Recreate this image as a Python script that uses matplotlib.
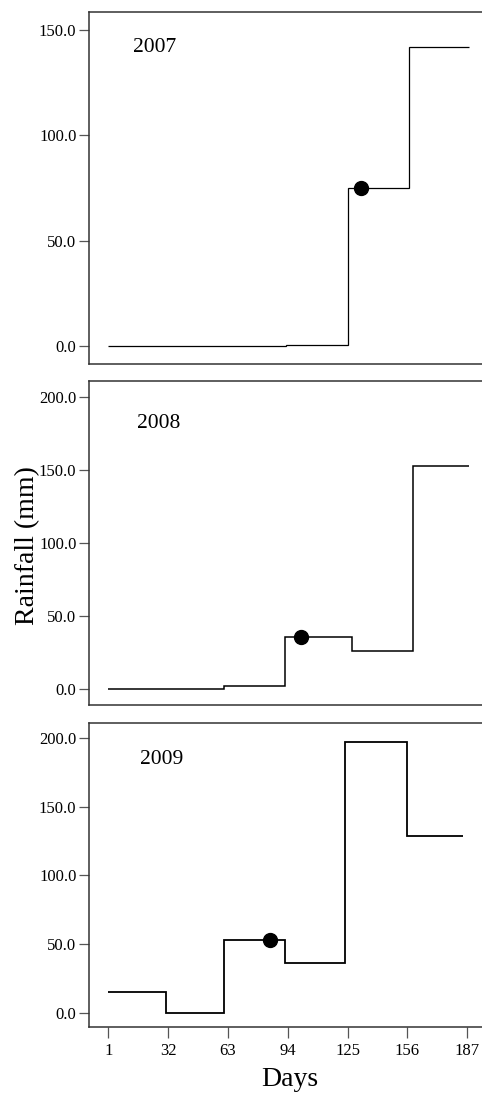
import matplotlib
matplotlib.use("Agg")
import matplotlib.pyplot as plt
from matplotlib.ticker import FormatStrFormatter

plt.rcParams['font.family'] = ['Liberation Serif', 'DejaVu Serif']

years = ['2007', '2008', '2009']

# step edges (days) and rainfall (mm) held between them
edges_2007 = [1, 93, 125, 157, 188]
rain_2007 = [0.0, 0.5, 75.0, 142.0]
edges_2008 = [1, 61, 92.5, 127, 159, 188]
rain_2008 = [0.0, 2.5, 36.0, 26.5, 152.5]
edges_2009 = [1, 31, 61, 92.5, 123.5, 155.5, 185]
rain_2009 = [15.0, 0.0, 53.0, 36.0, 197.5, 129.0]

# highlighted point per year
dot_day = [132, 101, 85]
dot_rain = [75.0, 36.0, 53.0]

day_ticks = [1, 32, 63, 94, 125, 156, 187]

edges = [edges_2007, edges_2008, edges_2009]
rains = [rain_2007, rain_2008, rain_2009]
ylims = [(-8.5, 158.5), (-10.7, 210.7), (-10.6, 211.2)]
yticks = [[0, 50, 100, 150], [0, 50, 100, 150, 200], [0, 50, 100, 150, 200]]
# axes boxes in figure fractions [left, bottom, width, height]
boxes = [[0.1846, 0.6679, 0.8154, 0.3212],
         [0.1846, 0.3568, 0.8154, 0.2956],
         [0.1846, 0.0627, 0.8154, 0.2779]]
year_pos = [(0.112, 0.90), (0.121, 0.87), (0.130, 0.878)]
lws = [0.9, 1.1, 1.3]

fig = plt.figure(figsize=(4.82, 10.96), dpi=100)

for i in range(3):
    ax = fig.add_axes(boxes[i])
    ax.stairs(rains[i], edges[i], baseline=None, color='black', linewidth=lws[i])
    ax.plot(dot_day[i], dot_rain[i], 'o', color='black', markersize=10)
    ax.set_xlim(-9, 194.6)
    ax.set_ylim(*ylims[i])
    ax.set_yticks(yticks[i])
    ax.yaxis.set_major_formatter(FormatStrFormatter('%.1f'))
    ax.tick_params(axis='y', length=7, width=0.9, color='#555555', pad=2, labelsize=12)
    if i < 2:
        ax.set_xticks([])
    else:
        ax.set_xticks(day_ticks)
        ax.tick_params(axis='x', length=8, width=0.9, color='#555555', pad=3, labelsize=12)
    for side in ['left', 'top', 'bottom']:
        ax.spines[side].set_color('#333333')
        ax.spines[side].set_linewidth(1.1)
    ax.spines['right'].set_visible(False)
    ax.text(year_pos[i][0], year_pos[i][1], years[i], transform=ax.transAxes,
            fontsize=15.5, ha='left', va='center')

fig.text(0.058, 0.502, 'Rainfall (mm)', rotation=90, fontsize=20, ha='center', va='center')
fig.text(0.6017, 0.0146, 'Days', fontsize=20, ha='center', va='center')

fig.savefig('out.png', dpi=100)
